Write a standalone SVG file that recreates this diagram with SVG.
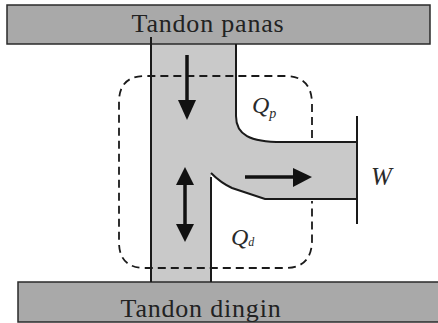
<svg xmlns="http://www.w3.org/2000/svg" width="438" height="323" viewBox="0 0 438 323">
<style>
.bar{fill:#a9a9a9;stroke:#2a2a2a;stroke-width:1.5}
.wall{fill:none;stroke:#1a1a1a;stroke-width:2}
.dash{fill:none;stroke:#1a1a1a;stroke-width:1.8;stroke-dasharray:8 5}
.lbl{font-family:"Liberation Serif",serif;font-size:26px;fill:#222;letter-spacing:0.8px}
.it{font-family:"Liberation Serif",serif;font-style:italic;fill:#2a2a2a}
.arw{fill:#111;stroke:none}
.shaft{stroke:#111;stroke-width:3.5}
</style>
<rect width="438" height="323" fill="#fff"/>
<g id="fluid">
<path d="M151,44 H236 V116 C236,135 250,142 282,142 H357 V199 H265 L232,188 Q220,182 211,174 V282 H151 Z" fill="#c9c9c9"/>
</g>
<g id="hot-reservoir">
<rect class="bar" x="7" y="5" width="423" height="39"/>
<text class="lbl" x="208" y="32" text-anchor="middle">Tandon panas</text>
</g>
<g id="cold-reservoir">
<rect class="bar" x="18" y="282" width="424" height="40"/>
<text class="lbl" x="201" y="317" text-anchor="middle">Tandon dingin</text>
</g>
<g id="walls">
<path class="wall" d="M151,37 V282"/>
<path class="wall" d="M236,44 V116 C236,135 250,142 282,142 H357"/>
<path class="wall" d="M357,116 V224"/>
<path class="wall" d="M211,173 Q221,183 232,188 L265,199 H357"/>
<path class="wall" d="M211,177 V282"/>
</g>
<g id="boundary">
<path class="dash" d="M312,138 V104 Q312,76 285,76 H145 Q119,76 119,102 V242 Q119,268 145,268 H285 Q312,268 312,240 V201"/>
</g>
<g id="connectors">
<line class="shaft" x1="187" y1="55" x2="187" y2="102"/>
<polygon class="arw" points="178,100 196,100 187,120"/>
<line class="shaft" x1="185" y1="182" x2="185" y2="228"/>
<polygon class="arw" points="176,185 194,185 185,167"/>
<polygon class="arw" points="176,224 194,224 185,242"/>
<line class="shaft" x1="245" y1="177" x2="295" y2="177"/>
<polygon class="arw" points="293,168 293,187 312,177"/>
</g>
<g id="labels">
<text class="it" x="252" y="113" font-size="24">Q<tspan font-size="14" dy="5">p</tspan></text>
<text class="it" x="371" y="185" font-size="25">W</text>
<text class="it" x="231" y="245" font-size="24">Q<tspan font-size="12" dy="1">d</tspan></text>
</g>
</svg>
